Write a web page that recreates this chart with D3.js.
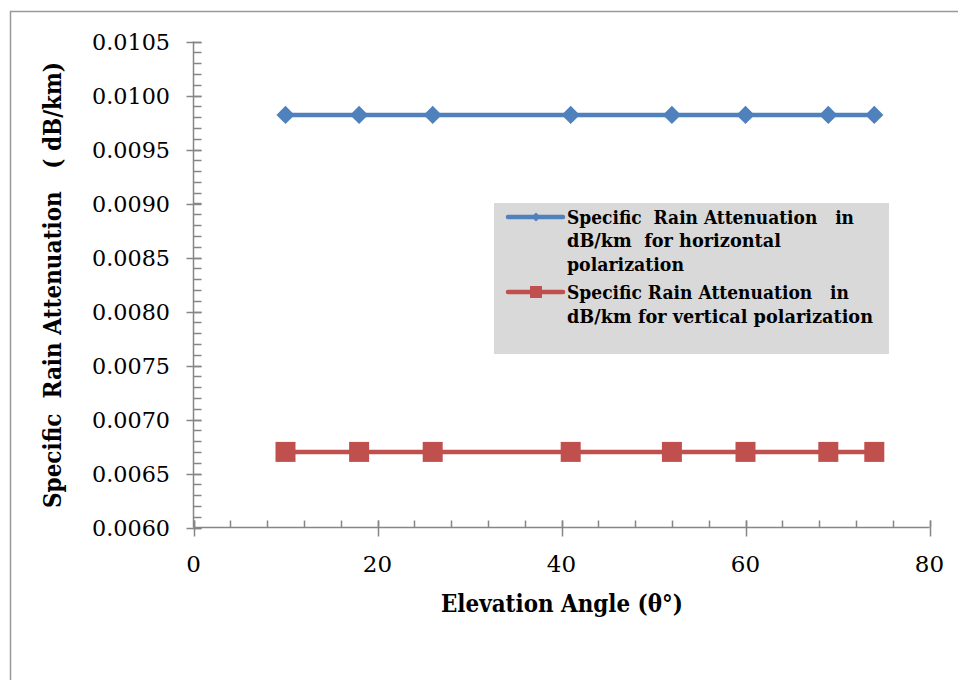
<!DOCTYPE html>
<html>
<head>
<meta charset="utf-8">
<script src="https://cdn.jsdelivr.net/npm/d3@7"></script>
<style>
  body { margin: 0; background: #fff; }
  svg { display: block; }
</style>
</head>
<body>
<div id="chart"></div>
<script>
// data
var angles = [10, 18, 26, 41, 52, 60, 69, 74];
var horizontal = [0.00982, 0.00982, 0.00982, 0.00982, 0.00982, 0.00982, 0.00982, 0.00982];
var vertical = [0.0067, 0.0067, 0.0067, 0.0067, 0.0067, 0.0067, 0.0067, 0.0067];
var yTicks = [0.0060, 0.0065, 0.0070, 0.0075, 0.0080, 0.0085, 0.0090, 0.0095, 0.0100, 0.0105];
var xTicks = [0, 20, 40, 60, 80];
var legendLines = [
  ["Specific  Rain Attenuation   in", "dB/km  for horizontal", "polarization"],
  ["Specific Rain Attenuation   in", "dB/km for vertical polarization"]
];

var w = 958, h = 680;
var plotLeft = 193.5, plotRight = 929.5, plotTop = 41.5, plotBottom = 527.5;
var axisGrey = "#868686";
var serif = "'DejaVu Serif', serif";

var svg = d3.select("#chart").append("svg")
  .attr("width", w).attr("height", h);

// outer chart border (runs off the right/bottom of the picture)
svg.append("rect")
  .attr("x", 10.5).attr("y", 11.5)
  .attr("width", 1000).attr("height", 700)
  .attr("fill", "none").attr("stroke", "#999").attr("stroke-width", 1.5);

var x = d3.scaleLinear().domain([0, 80]).range([plotLeft, plotRight]);
var y = d3.scaleLinear().domain([0.006, 0.0105]).range([plotBottom, plotTop]);

// y axis: major ticks cross, minor ticks inside
var gy = svg.append("g").attr("stroke", axisGrey).attr("stroke-width", 1.5);
gy.append("line").attr("x1", plotLeft).attr("x2", plotLeft).attr("y1", plotTop).attr("y2", plotBottom);
gy.selectAll("line.minor").data(d3.range(0.0060, 0.01051, 0.0001))
  .enter().append("line").attr("class", "minor")
  .attr("x1", plotLeft).attr("x2", plotLeft + 8)
  .attr("y1", function(d) { return Math.round(y(d)) + 0.5; })
  .attr("y2", function(d) { return Math.round(y(d)) + 0.5; });
gy.selectAll("line.major").data(yTicks)
  .enter().append("line").attr("class", "major")
  .attr("x1", plotLeft - 7).attr("x2", plotLeft + 8)
  .attr("y1", function(d) { return Math.round(y(d)) + 0.5; })
  .attr("y2", function(d) { return Math.round(y(d)) + 0.5; });

svg.append("g").selectAll("text").data(yTicks)
  .enter().append("text")
  .attr("x", 170).attr("y", function(d) { return y(d); })
  .attr("dy", "0.36em")
  .attr("text-anchor", "end")
  .attr("textLength", 78).attr("lengthAdjust", "spacingAndGlyphs")
  .style("font-family", serif).style("font-size", "23px")
  .text(function(d) { return d3.format(".4f")(d); });

// x axis: major ticks cross, minor ticks upward
var gx = svg.append("g").attr("stroke", axisGrey).attr("stroke-width", 1.5);
gx.append("line").attr("x1", plotLeft).attr("x2", plotRight).attr("y1", plotBottom).attr("y2", plotBottom);
gx.selectAll("line.minor").data(d3.range(0, 81, 4))
  .enter().append("line").attr("class", "minor")
  .attr("x1", function(d) { return Math.round(x(d)) + 0.5; })
  .attr("x2", function(d) { return Math.round(x(d)) + 0.5; })
  .attr("y1", plotBottom - 7).attr("y2", plotBottom);
gx.selectAll("line.major").data(xTicks)
  .enter().append("line").attr("class", "major")
  .attr("x1", function(d) { return Math.round(x(d)) + 0.5; })
  .attr("x2", function(d) { return Math.round(x(d)) + 0.5; })
  .attr("y1", plotBottom - 7).attr("y2", plotBottom + 9);

svg.append("g").selectAll("text").data(xTicks)
  .enter().append("text")
  .attr("x", function(d) { return x(d); }).attr("y", 572)
  .attr("text-anchor", "middle")
  .style("font-family", serif).style("font-size", "23px")
  .text(function(d) { return d; });

// axis titles
svg.append("text")
  .attr("x", 562).attr("y", 612)
  .attr("text-anchor", "middle")
  .attr("textLength", 242).attr("lengthAdjust", "spacingAndGlyphs")
  .style("font-family", serif).style("font-size", "24px").style("font-weight", "bold")
  .text("Elevation Angle (θ°)");

svg.append("text")
  .attr("transform", "translate(61,285) rotate(-90)")
  .attr("text-anchor", "middle")
  .attr("textLength", 446).attr("lengthAdjust", "spacingAndGlyphs")
  .style("font-family", serif).style("font-size", "24px").style("font-weight", "bold")
  .style("white-space", "pre")
  .text("Specific  Rain Attenuation   ( dB/km)");

// series
var line = d3.line()
  .x(function(d) { return x(d[0]); })
  .y(function(d) { return y(d[1]); });

var hData = d3.zip(angles, horizontal);
var vData = d3.zip(angles, vertical);

svg.append("path").datum(hData).attr("d", line)
  .attr("fill", "none").attr("stroke", "#4f81bd").attr("stroke-width", 4.5);
svg.append("g").selectAll("path").data(hData)
  .enter().append("path")
  .attr("d", d3.symbol(d3.symbolSquare, 165)())
  .attr("transform", function(d) { return "translate(" + x(d[0]) + "," + y(d[1]) + ") rotate(45)"; })
  .attr("fill", "#4f81bd");

svg.append("path").datum(vData).attr("d", line)
  .attr("fill", "none").attr("stroke", "#c0504d").attr("stroke-width", 4.5);
svg.append("g").selectAll("rect").data(vData)
  .enter().append("rect")
  .attr("x", function(d) { return x(d[0]) - 10; })
  .attr("y", function(d) { return y(d[1]) - 10; })
  .attr("width", 20).attr("height", 20)
  .attr("fill", "#c0504d");

// legend
var lg = svg.append("g");
lg.append("rect").attr("x", 494).attr("y", 203).attr("width", 395).attr("height", 151)
  .attr("fill", "#d9d9d9");

var legendKeys = [
  { color: "#4f81bd", y: 217, shape: "diamond" },
  { color: "#c0504d", y: 292, shape: "square" }
];
legendKeys.forEach(function(k, i) {
  lg.append("line").attr("x1", 508).attr("x2", 563).attr("y1", k.y).attr("y2", k.y)
    .attr("stroke", k.color).attr("stroke-width", 4.5).attr("stroke-linecap", "round");
  if (k.shape == "diamond") {
    lg.append("path").attr("d", d3.symbol(d3.symbolSquare, 40)())
      .attr("transform", "translate(536," + k.y + ") rotate(45)").attr("fill", k.color);
  } else {
    lg.append("rect").attr("x", 530).attr("y", k.y - 6).attr("width", 12).attr("height", 12)
      .attr("fill", k.color);
  }
});

var lineYs = [[224, 247, 271], [299, 323]];
var lineWidths = [[287, 214, 117], [282, 306]];
legendLines.forEach(function(lines, i) {
  lines.forEach(function(t, j) {
    lg.append("text")
      .attr("x", 567).attr("y", lineYs[i][j])
      .attr("textLength", lineWidths[i][j]).attr("lengthAdjust", "spacingAndGlyphs")
      .style("font-family", serif).style("font-size", "19px").style("font-weight", "bold")
      .style("white-space", "pre")
      .text(t);
  });
});
</script>
</body>
</html>
